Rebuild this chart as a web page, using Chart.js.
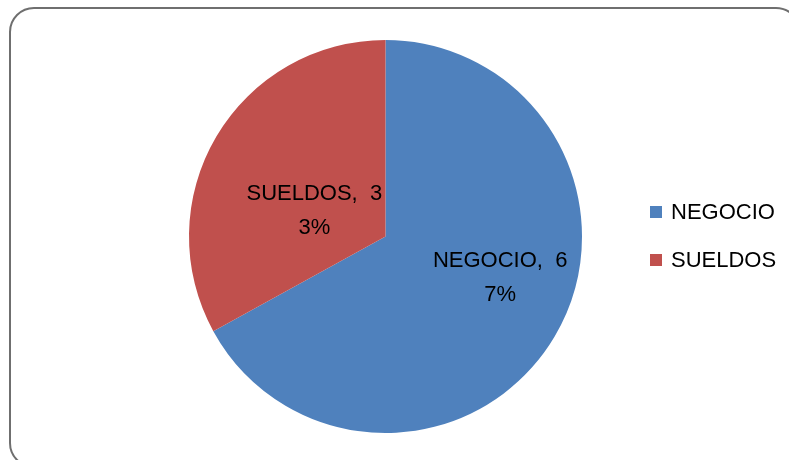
<!DOCTYPE html>
<html>
<head>
<meta charset="utf-8">
<script src="https://cdn.jsdelivr.net/npm/chart.js@4/dist/chart.umd.min.js"></script>
<style>
    html, body { margin: 0; padding: 0; background: #fff; overflow: hidden; }
    #wrap { position: relative; width: 789px; height: 460px; }
    /* rounded chart frame, runs off the right and bottom edges */
    #frame {
        position: absolute; left: 9px; top: 7px;
        width: 788px; height: 457px;
        border: 2.5px solid #6f6f6f; border-radius: 25px;
    }
    #chart { position: absolute; left: 0; top: 0; }
</style>
</head>
<body>
<div id="wrap">
    <div id="frame"></div>
    <canvas id="chart" width="789" height="460"></canvas>
</div>
<script>
// categories and values
const categories = ['NEGOCIO', 'SUELDOS'];
const values = [67, 33];
const sliceColors = ['#4f81bd', '#c0504d'];

// label lines as the labels wrap inside each slice
const labelLines = [
    ['NEGOCIO,  6', '7%'],
    ['SUELDOS,  3', '3%']
];

const FONT = '"Liberation Sans", Arial, sans-serif';

// draws the wrapped "category, percent" labels inside the slices
const sliceLabels = {
    id: 'sliceLabels',
    afterDatasetsDraw(chart, args, opts) {
        const ctx = chart.ctx;
        const meta = chart.getDatasetMeta(0);
        ctx.save();
        ctx.font = opts.size + 'px ' + FONT;
        ctx.fillStyle = '#000';
        ctx.textAlign = 'center';
        ctx.textBaseline = 'middle';
        meta.data.forEach((arc, i) => {
            const mid = (arc.startAngle + arc.endAngle) / 2 + opts.turn * Math.PI / 180;
            const r = arc.outerRadius * opts.radius[i];
            const cx = arc.x + Math.cos(mid) * r;
            const cy = arc.y + Math.sin(mid) * r;
            const lines = labelLines[i];
            lines.forEach((t, j) => {
                const y = cy + (j - (lines.length - 1) / 2) * opts.lineHeight;
                ctx.fillText(t, cx, y);
            });
        });
        ctx.restore();
    }
};

// legend with square markers to the right of the pie
const sideLegend = {
    id: 'sideLegend',
    afterDraw(chart, args, opts) {
        const ctx = chart.ctx;
        ctx.save();
        ctx.font = opts.size + 'px ' + FONT;
        ctx.textBaseline = 'middle';
        chart.data.labels.forEach((name, i) => {
            const y = opts.y + i * opts.step;
            ctx.fillStyle = chart.data.datasets[0].backgroundColor[i];
            ctx.fillRect(opts.x, y - opts.box / 2, opts.box, opts.box);
            ctx.fillStyle = '#000';
            ctx.fillText(name, opts.x + opts.box + 9, y + 1);
        });
        ctx.restore();
    }
};

new Chart(document.getElementById('chart'), {
    type: 'pie',
    data: {
        labels: categories,
        datasets: [{
            data: values,
            backgroundColor: sliceColors,
            borderWidth: 0
        }]
    },
    options: {
        responsive: false,
        animation: false,
        layout: {
            padding: { left: 189, right: 207, top: 40, bottom: 27 }
        },
        plugins: {
            legend: { display: false },
            tooltip: { enabled: false },
            sliceLabels: { size: 22, lineHeight: 34, radius: [0.62, 0.385], turn: -10.8 },
            sideLegend: { x: 650, y: 212, step: 48, box: 12, size: 22 }
        }
    },
    plugins: [sliceLabels, sideLegend]
});
</script>
</body>
</html>
